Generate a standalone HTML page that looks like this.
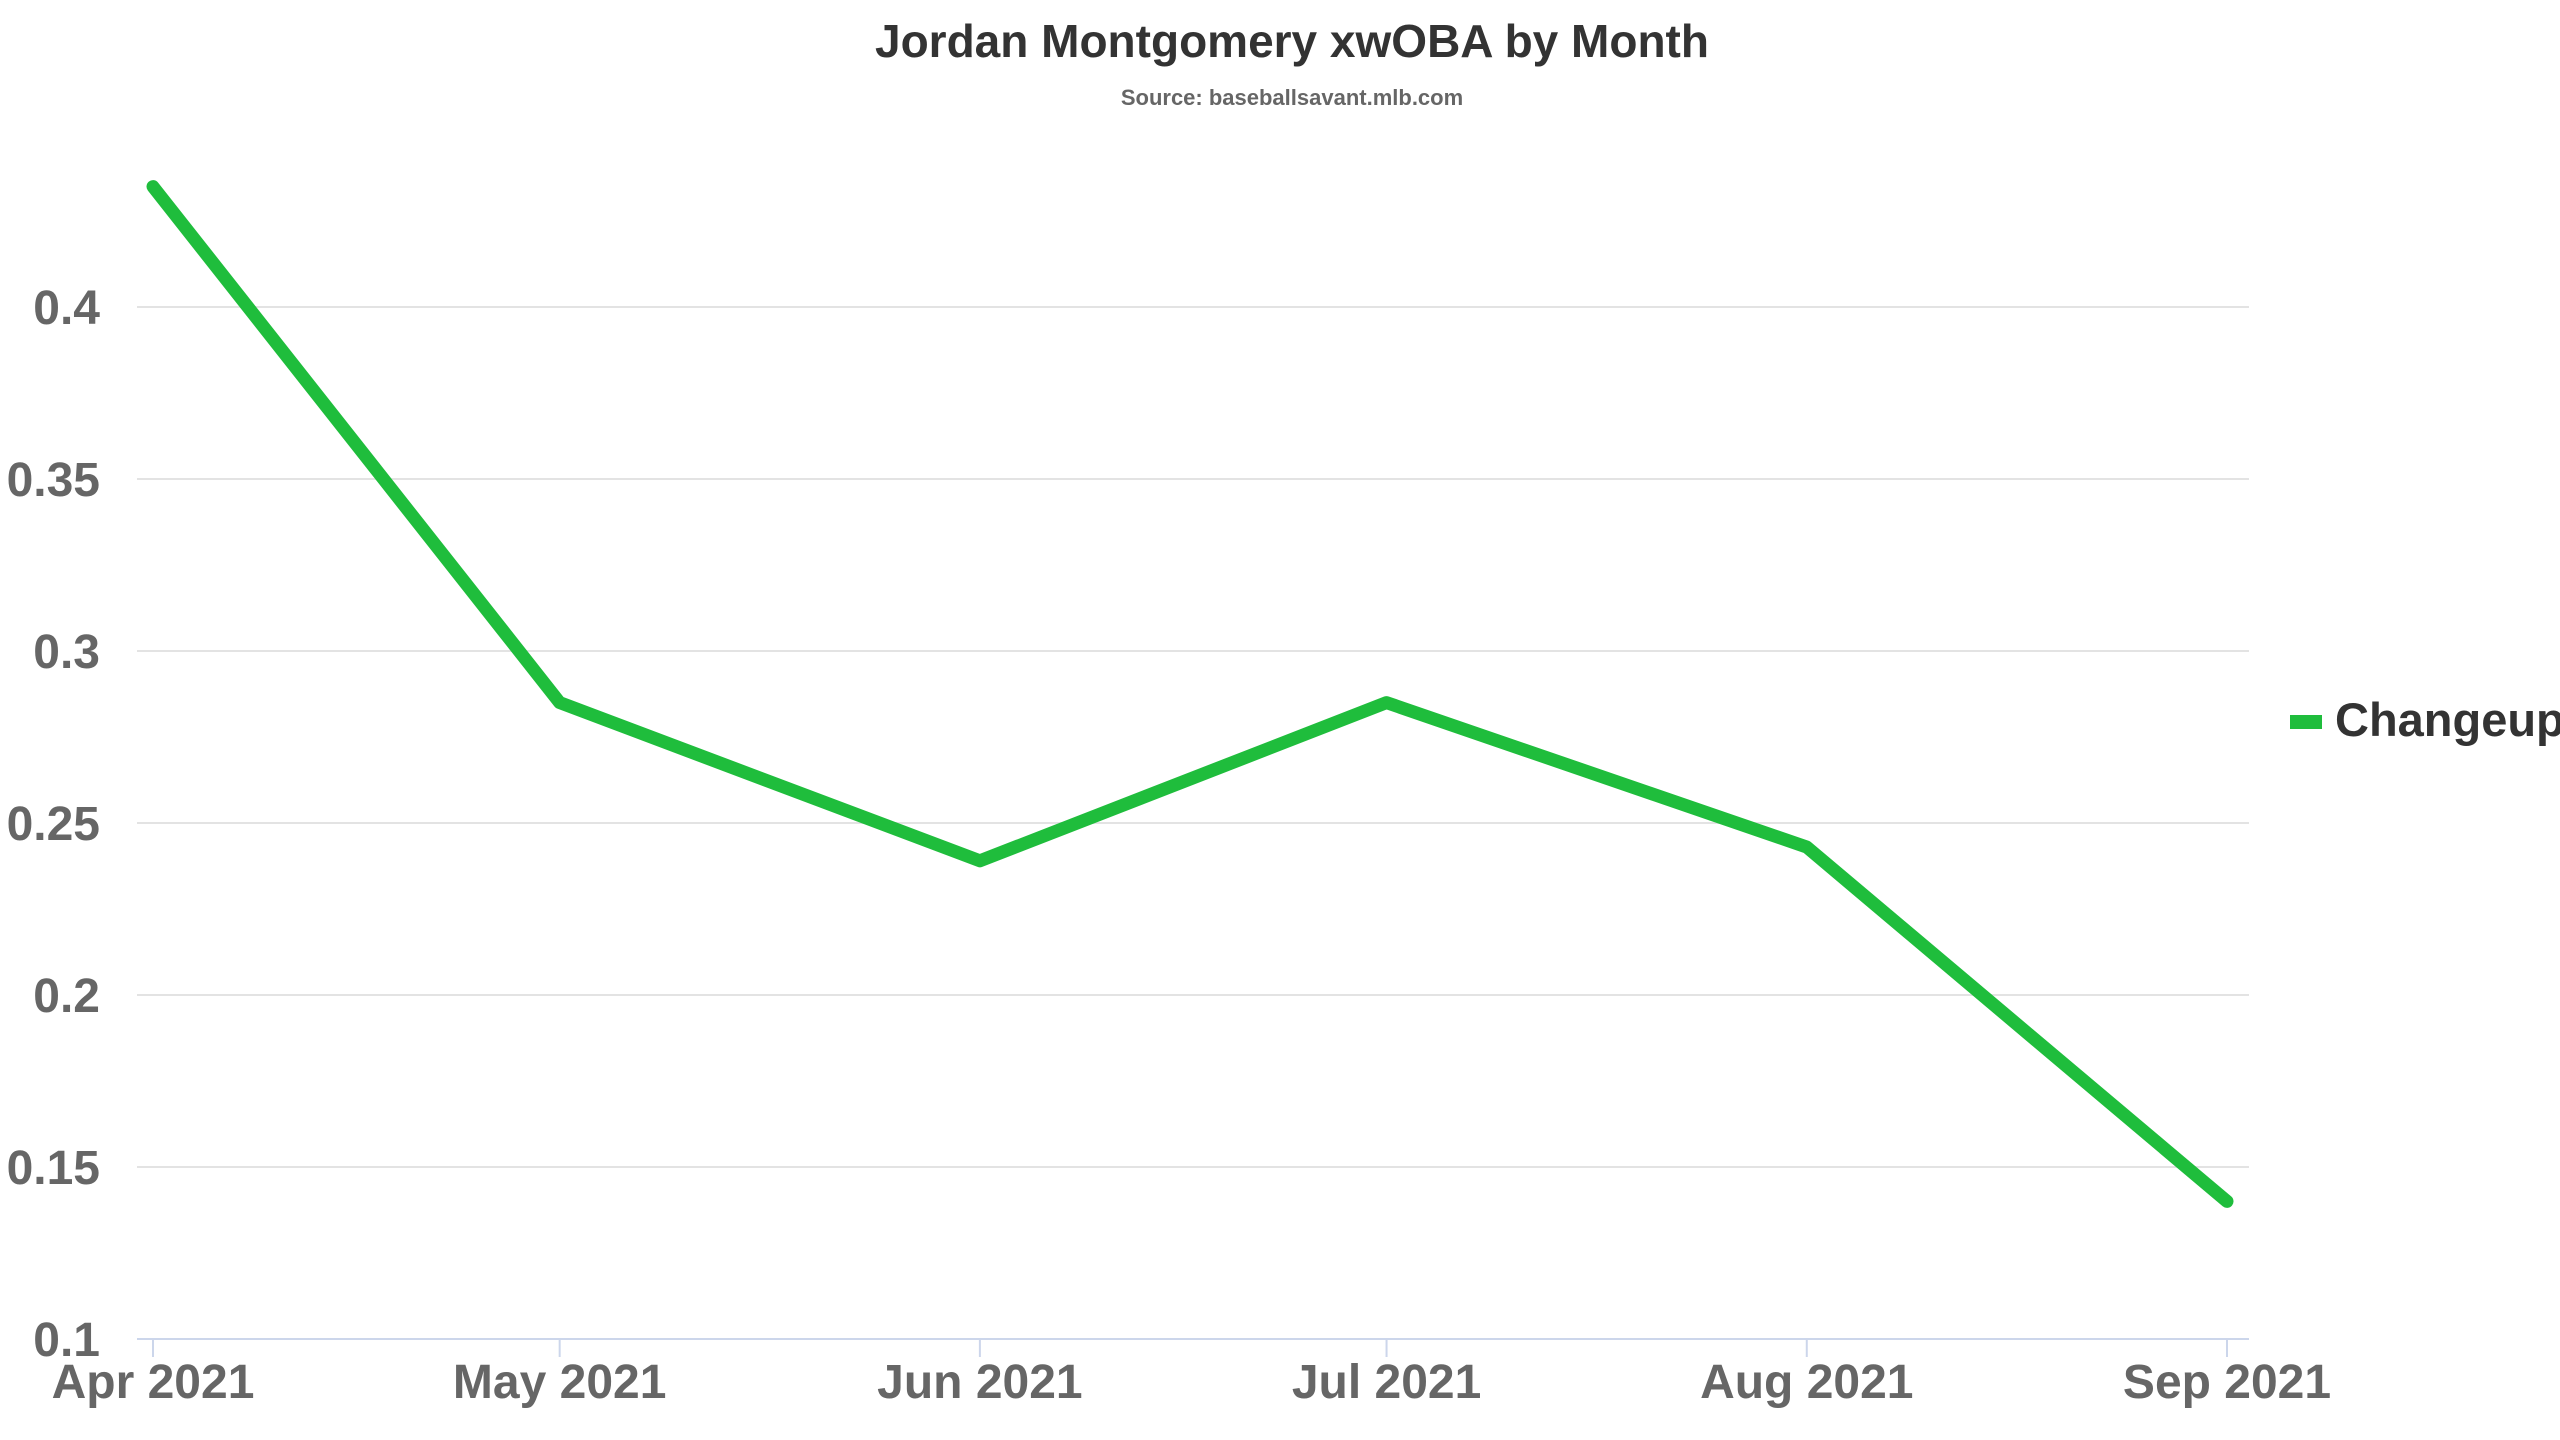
<!DOCTYPE html>
<html><head><meta charset="utf-8"><style>
html,body{margin:0;padding:0;background:#fff;}
svg{display:block;font-family:"Liberation Sans Narrow","Liberation Sans",sans-serif;font-weight:bold;}
</style></head><body>
<svg id="chart" width="2560" height="1440" viewBox="0 0 2560 1440" xmlns="http://www.w3.org/2000/svg">
<text x="1292" y="57" text-anchor="middle" font-size="46" fill="#333">Jordan Montgomery xwOBA by Month</text>
<text x="1292" y="105" text-anchor="middle" font-size="22" fill="#666">Source: baseballsavant.mlb.com</text>
<g id="grid"></g>
<g id="yaxis"></g>
<g id="xaxis"></g>
<g id="series"></g>
<g>
<rect x="2290" y="715" width="32" height="14" fill="#1fbd3c"/>
<text x="2335" y="736" font-size="47" fill="#333">Changeup</text>
</g>
</svg>
<script>
const categories = ["Apr 2021","May 2021","Jun 2021","Jul 2021","Aug 2021","Sep 2021"];
const dayOffsets = [0,30,61,91,122,153];
const changeupValues = [0.435,0.285,0.239,0.285,0.243,0.140];
const yTicks = [0.1,0.15,0.2,0.25,0.3,0.35,0.4];
const yTickLabels = ["0.1","0.15","0.2","0.25","0.3","0.35","0.4"];

const NS="http://www.w3.org/2000/svg";
const plotLeft=137, plotRight=2249, x0=153, x1=2227;
const yZero=1339, pxPerUnit=3440;
function xScale(d){return x0+(x1-x0)*(d-dayOffsets[0])/(dayOffsets[dayOffsets.length-1]-dayOffsets[0]);}
function yScale(v){return yZero-(v-yTicks[0])*pxPerUnit;}
function mk(tag,attrs,parent){const e=document.createElementNS(NS,tag);for(const k in attrs)e.setAttribute(k,attrs[k]);parent.appendChild(e);return e;}

const grid=document.getElementById('grid'), yaxis=document.getElementById('yaxis'), xaxis=document.getElementById('xaxis'), series=document.getElementById('series');
yTicks.forEach((t,i)=>{
  const y=yScale(t);
  if(i>0){
    const g=mk('line',{x1:plotLeft,x2:plotRight,y1:y,y2:y,stroke:'#e3e3e3','stroke-width':2},grid);
    
    
  }
  const tx=mk('text',{x:100,y:y+17,'text-anchor':'end','font-size':48,fill:'#666'},yaxis);
  tx.textContent=yTickLabels[i];
  
  
});
const ax=mk('line',{x1:plotLeft,x2:plotRight,y1:yZero,y2:yZero,stroke:'#ccd6eb','stroke-width':2},xaxis);


categories.forEach((c,i)=>{
  const x=xScale(dayOffsets[i]);
  const tk=mk('line',{x1:x,x2:x,y1:yZero,y2:yZero+18,stroke:'#ccd6eb','stroke-width':2},xaxis);
  
  
  const t=mk('text',{x:x,y:1398,'text-anchor':'middle','font-size':48,fill:'#666'},xaxis);
  t.textContent=c;
  
  
});
const pts=changeupValues.map((v,i)=>xScale(dayOffsets[i])+','+yScale(v)).join(' ');
const pl=mk('polyline',{points:pts,fill:'none',stroke:'#1fbd3c','stroke-width':13,'stroke-linejoin':'round','stroke-linecap':'round'},series);


</script>
</body></html>
